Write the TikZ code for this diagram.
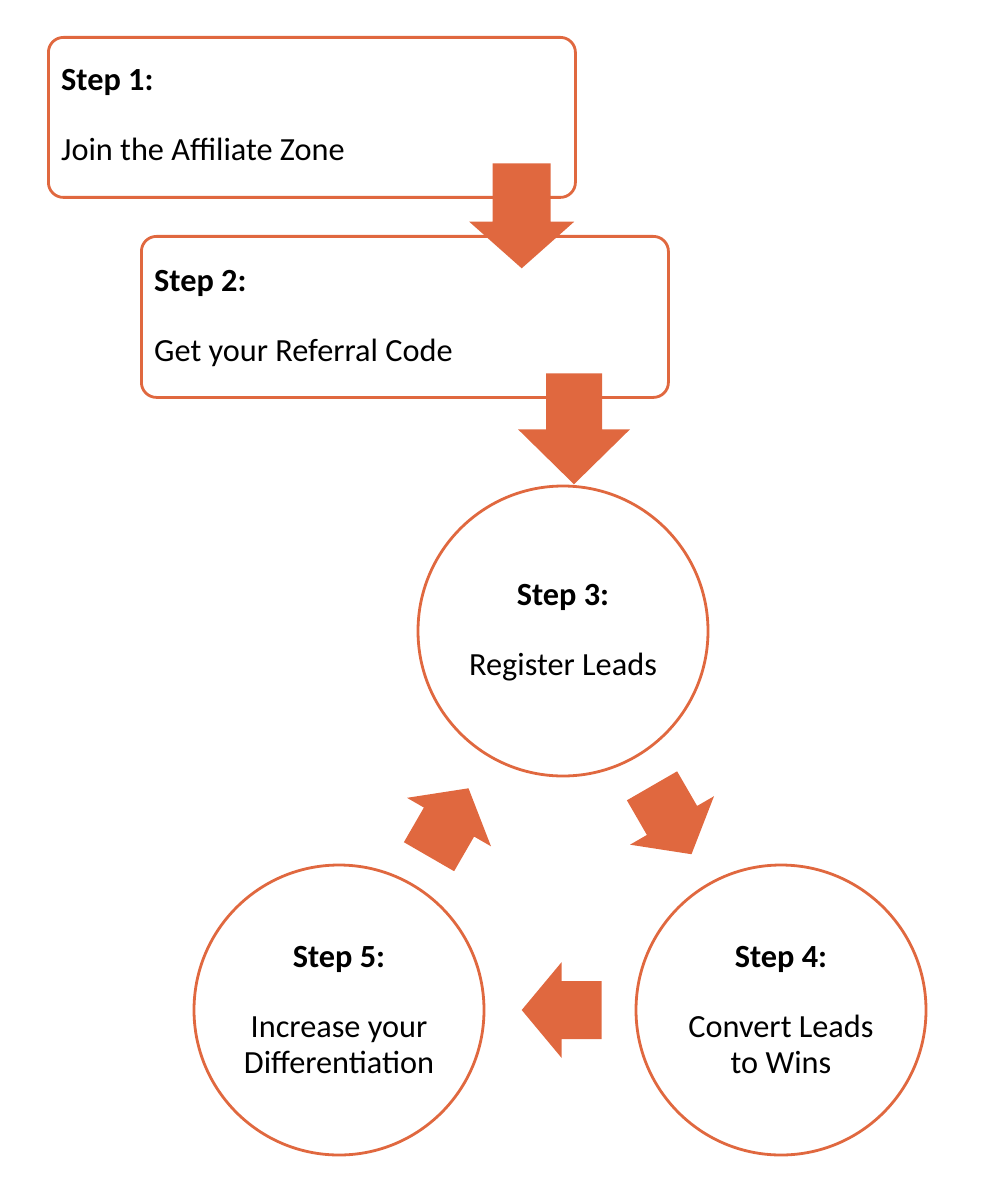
\documentclass[tikz,border=0pt]{standalone}
\usepackage{fontspec}
\setmainfont{Carlito}
\definecolor{accent}{HTML}{E0683F}
\newcommand{\blockarr}[7]{%
  \begin{scope}[shift={(#1,#2)},rotate=#3]
    \fill[accent] (0,-#6) -- (#4,-#6) -- (#4,-#7) -- ({#4+#5},0) -- (#4,#7) -- (#4,#6) -- (0,#6) -- cycle;
  \end{scope}}
\tikzset{
  stepbox/.style={draw=accent, line width=2.8pt, rounded corners=15pt, fill=white, inner sep=0pt},
  stepcircle/.style={draw=accent, line width=2.8pt, circle, fill=white, minimum size=290pt, inner sep=0pt},
  txt/.style={inner sep=0pt, font=\fontsize{32.3}{38}\selectfont},
  btxt/.style={txt, font=\fontsize{32.3}{38}\selectfont\bfseries},
}
\begin{document}
\begin{tikzpicture}[x=1pt,y=-1pt]
\useasboundingbox (0,0) rectangle (980,1198);
% boxes
\node[stepbox, minimum width=527pt, minimum height=160pt, anchor=north west] (b1) at (47,36) {};
\node[stepbox, minimum width=527pt, minimum height=161pt, anchor=north west] (b2) at (140,235) {};
\node[btxt, anchor=base west] (t1a) at (61,91) {Step 1:};
\node[txt, anchor=base west] (t1b) at (61,161) {Join the Affiliate Zone};
\node[btxt, anchor=base west] (t2a) at (154,291) {Step 2:};
\node[txt, anchor=base west] (t2b) at (154,361) {Get your Referral Code};
% circles
\node[stepcircle] (c3) at (563,631) {};
\node[stepcircle] (c4) at (781,1010) {};
\node[stepcircle] (c5) at (339,1010) {};
\node[btxt, anchor=base] (t3a) at (563,605) {Step 3:};
\node[txt, anchor=base] (t3b) at (563,675) {Register Leads};
\node[btxt, anchor=base] (t4a) at (781,967) {Step 4:};
\node[txt, anchor=base] (t4b) at (781,1037) {Convert Leads};
\node[txt, anchor=base] (t4c) at (781,1073) {to Wins};
\node[btxt, anchor=base] (t5a) at (339,967) {Step 5:};
\node[txt, anchor=base] (t5b) at (339,1037) {Increase your};
\node[txt, anchor=base] (t5c) at (339,1073) {Differentiation};
% block arrows
\blockarr{521.7}{163.3}{-90}{58.4}{46.6}{29}{52.5}
\blockarr{574}{373.3}{-90}{56}{55}{28}{56}
\blockarr{652}{785.8}{-60}{40}{39}{29}{48.5}
\blockarr{601.7}{1010}{180}{40}{40}{29}{48}
\blockarr{429}{856.7}{60}{40}{39}{29}{48.5}
\end{tikzpicture}
\end{document}
